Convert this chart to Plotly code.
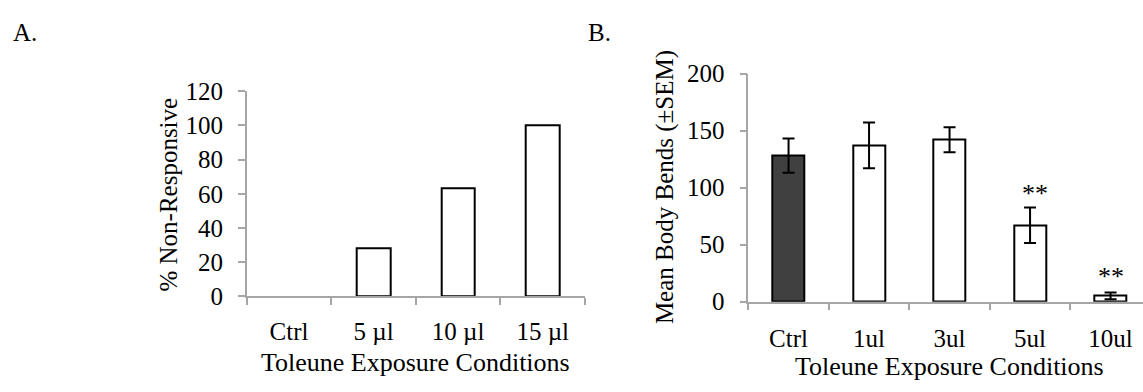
import plotly.graph_objects as go

# ---- data ----
a_categories = ["Ctrl", "5 µl", "10 µl", "15 µl"]
a_values = [0, 28, 63, 100]

b_categories = ["Ctrl", "1ul", "3ul", "5ul", "10ul"]
b_means = [128, 137, 142, 67, 5]
b_sem = [15, 20, 11, 15.5, 3]
b_colors = ["#404040", "white", "white", "white", "white"]
b_sig = ["", "", "", "**", "**"]
b_sig_y = [None, None, None, 95, 22]
b_sig_xshift = [0, 0, 0, 5, 0]

W, H = 1143, 392
FONT = "Liberation Serif, Times New Roman, serif"
AXC = "#a6a6a6"

def px(x):
    return x / W

def py(y):
    return 1 - y / H

fig = go.Figure()

# zero-height bars get no outline (nothing is drawn for them in the original)
a_line_widths = [0 if v == 0 else 2 for v in a_values]

fig.add_trace(go.Bar(
    x=a_categories, y=a_values, width=0.4,
    marker=dict(color="white", line=dict(color="black", width=a_line_widths)),
    xaxis="x", yaxis="y", showlegend=False,
))

fig.add_trace(go.Bar(
    x=b_categories, y=b_means, width=0.4,
    marker=dict(color=b_colors, line=dict(color="black", width=2)),
    error_y=dict(type="data", array=b_sem, visible=True, color="black",
                 thickness=2, width=6),
    xaxis="x2", yaxis="y2", showlegend=False,
))

axis_common = dict(
    showline=True, linecolor=AXC, linewidth=1.5, showgrid=False,
    zeroline=False, ticks="outside", ticklen=7, tickcolor=AXC, tickwidth=1.5,
    tickfont=dict(family=FONT, size=25, color="black"),
)

fig.update_layout(
    width=W, height=H,
    margin=dict(l=0, r=0, t=0, b=0),
    paper_bgcolor="white", plot_bgcolor="white",
    font=dict(family=FONT, color="black"),
    bargap=0,
    xaxis=dict(domain=[px(246.7), px(585)], anchor="y", type="category",
               range=[-0.5, 3.5], tickson="boundaries", ticklabelstandoff=12,
               **axis_common),
    yaxis=dict(domain=[py(304.3), py(84)], anchor="x", range=[0, 120],
               dtick=20, ticklabelstandoff=10, **axis_common),
    xaxis2=dict(domain=[px(748.3), 1.0], anchor="y2", type="category",
                range=[-0.5, 4.403], tickson="boundaries", ticklabelstandoff=14,
                **axis_common),
    yaxis2=dict(domain=[py(310), py(65)], anchor="x2", range=[0, 200],
                dtick=50, ticklabelstandoff=10, **axis_common),
)

ann = []
ann.append(dict(text="A.", x=px(11), y=py(4), xref="paper", yref="paper",
                xanchor="left", yanchor="top", showarrow=False,
                font=dict(family=FONT, size=25)))
ann.append(dict(text="B.", x=px(586), y=py(4), xref="paper", yref="paper",
                xanchor="left", yanchor="top", showarrow=False,
                font=dict(family=FONT, size=25)))
ann.append(dict(text="Toleune Exposure Conditions", x=px(415.8), y=py(375),
                xref="paper", yref="paper", xanchor="center", yanchor="middle",
                showarrow=False, font=dict(family=FONT, size=26)))
ann.append(dict(text="Toleune Exposure Conditions", x=px(949), y=py(380),
                xref="paper", yref="paper", xanchor="center", yanchor="middle",
                showarrow=False, font=dict(family=FONT, size=26)))
ann.append(dict(text="% Non-Responsive", x=px(169), y=py(195),
                xref="paper", yref="paper", xanchor="center", yanchor="middle",
                textangle=-90, showarrow=False, font=dict(family=FONT, size=25)))
ann.append(dict(text="Mean Body Bends (±SEM)", x=px(665), y=py(187),
                xref="paper", yref="paper", xanchor="center", yanchor="middle",
                textangle=-90, showarrow=False, font=dict(family=FONT, size=25)))
for cat, s, sy, sx in zip(b_categories, b_sig, b_sig_y, b_sig_xshift):
    if s:
        ann.append(dict(text=s, x=cat, y=sy, xref="x2", yref="y2",
                        xanchor="center", yanchor="middle", xshift=sx,
                        showarrow=False, font=dict(family=FONT, size=26)))
fig.update_layout(annotations=ann)

fig.write_html("out.html", config={"displayModeBar": False},
               post_script="document.body.style.margin='0px';")
